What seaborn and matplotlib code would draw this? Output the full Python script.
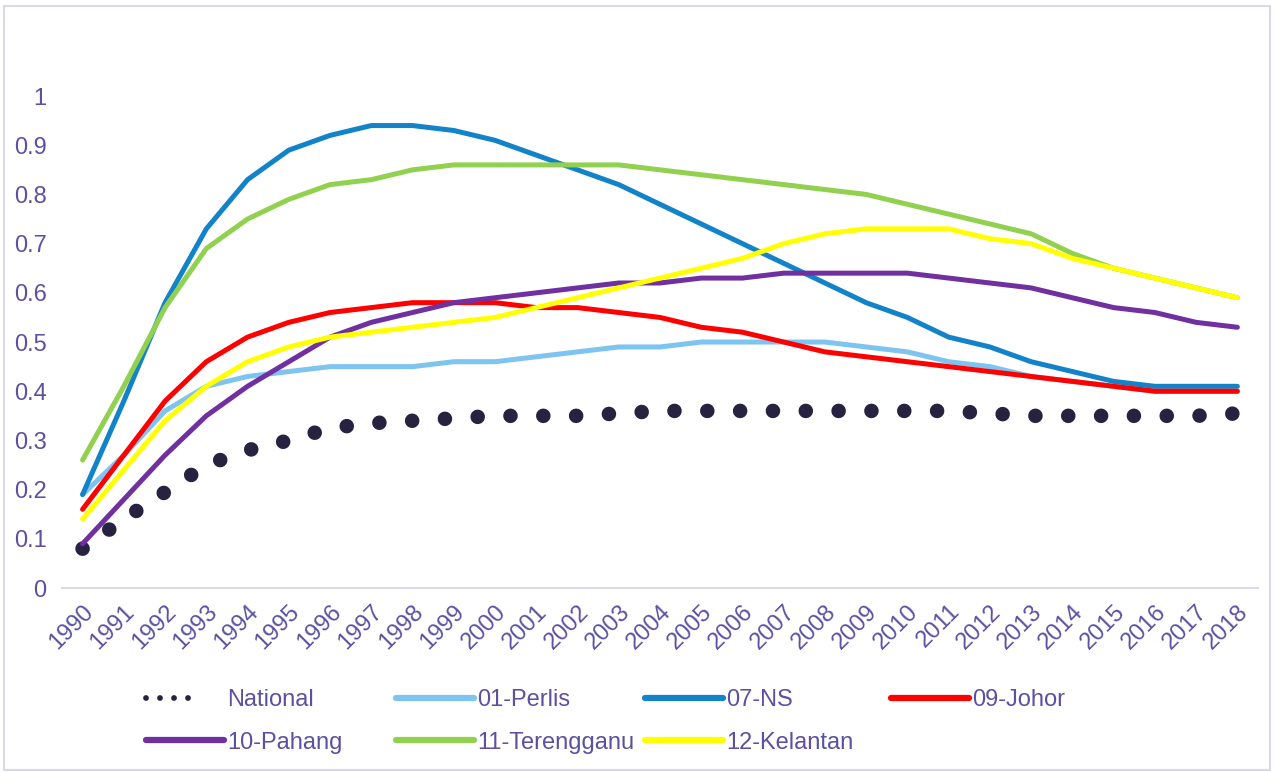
import pandas as pd
import matplotlib
matplotlib.use("Agg")
import matplotlib.pyplot as plt
import seaborn as sns
from matplotlib.patches import Rectangle
from matplotlib.lines import Line2D

# ---------------- data ----------------
years = list(range(1990, 2019))

national = [0.08, 0.14, 0.195, 0.25, 0.28, 0.30, 0.325, 0.335, 0.34, 0.345, 0.35, 0.35, 0.35, 0.355,
            0.36, 0.36, 0.36, 0.36, 0.36, 0.36, 0.36, 0.36, 0.355, 0.35, 0.35, 0.35, 0.35, 0.35, 0.355]
perlis = [0.19, 0.27, 0.36, 0.41, 0.43, 0.44, 0.45, 0.45, 0.45, 0.46, 0.46, 0.47, 0.48, 0.49,
          0.49, 0.50, 0.50, 0.50, 0.50, 0.49, 0.48, 0.46, 0.45, 0.43, 0.42, 0.41, 0.40, 0.40, 0.40]
ns = [0.19, 0.38, 0.58, 0.73, 0.83, 0.89, 0.92, 0.94, 0.94, 0.93, 0.91, 0.88, 0.85, 0.82,
      0.78, 0.74, 0.70, 0.66, 0.62, 0.58, 0.55, 0.51, 0.49, 0.46, 0.44, 0.42, 0.41, 0.41, 0.41]
johor = [0.16, 0.27, 0.38, 0.46, 0.51, 0.54, 0.56, 0.57, 0.58, 0.58, 0.58, 0.57, 0.57, 0.56,
         0.55, 0.53, 0.52, 0.50, 0.48, 0.47, 0.46, 0.45, 0.44, 0.43, 0.42, 0.41, 0.40, 0.40, 0.40]
pahang = [0.09, 0.18, 0.27, 0.35, 0.41, 0.46, 0.51, 0.54, 0.56, 0.58, 0.59, 0.60, 0.61, 0.62,
          0.62, 0.63, 0.63, 0.64, 0.64, 0.64, 0.64, 0.63, 0.62, 0.61, 0.59, 0.57, 0.56, 0.54, 0.53]
terengganu = [0.26, 0.41, 0.57, 0.69, 0.75, 0.79, 0.82, 0.83, 0.85, 0.86, 0.86, 0.86, 0.86, 0.86,
              0.85, 0.84, 0.83, 0.82, 0.81, 0.80, 0.78, 0.76, 0.74, 0.72, 0.68, 0.65, 0.63, 0.61, 0.59]
kelantan = [0.14, 0.24, 0.34, 0.41, 0.46, 0.49, 0.51, 0.52, 0.53, 0.54, 0.55, 0.57, 0.59, 0.61,
            0.63, 0.65, 0.67, 0.70, 0.72, 0.73, 0.73, 0.73, 0.71, 0.70, 0.67, 0.65, 0.63, 0.61, 0.59]

series_names = ["National", "01-Perlis", "07-NS", "09-Johor", "10-Pahang", "11-Terengganu", "12-Kelantan"]
series_values = [national, perlis, ns, johor, pahang, terengganu, kelantan]
series_colors = ["#262240", "#7DC4F0", "#1283C8", "#FF0000", "#7030A0", "#92D050", "#FFFF00"]

df = pd.DataFrame({"Year": years})
for name, vals in zip(series_names, series_values):
    df[name] = vals

# ---------------- style ----------------
sns.set_style("white")
plt.rcParams["font.family"] = ["Liberation Sans", "DejaVu Sans"]
text_color = "#5B51A0"
axis_color = "#D9D8EC"
fs = 17

fig = plt.figure(figsize=(12.8, 7.72), dpi=100)
ax = fig.add_axes([0.0484, 0.2383, 0.9344, 0.6373])

handles = []
for name, color in zip(series_names, series_colors):
    if name == "National":
        sns.lineplot(data=df, x="Year", y=name, ax=ax, color=color, lw=10.5,
                     linestyle=(0, (0.001, 2.25)), dash_capstyle="round", legend=False)
        # four small dots then a gap, like the excel legend key
        handles.append(Line2D([], [], color=color, lw=4.2,
                              linestyle=(0, (0.001, 2.4, 0.001, 2.4, 0.001, 2.4, 0.001, 12)),
                              dash_capstyle="round"))
    else:
        sns.lineplot(data=df, x="Year", y=name, ax=ax, color=color, lw=3.6,
                     solid_capstyle="round", legend=False)
        handles.append(Line2D([], [], color=color, lw=4.5, solid_capstyle="round"))

ax.set_xlim(1989.5, 2018.5)
ax.set_ylim(0, 1)
ax.set_yticks([0, 0.1, 0.2, 0.3, 0.4, 0.5, 0.6, 0.7, 0.8, 0.9, 1])
ax.set_yticklabels(["0", "0.1", "0.2", "0.3", "0.4", "0.5", "0.6", "0.7", "0.8", "0.9", "1"])
ax.set_xticks(years)
ax.set_xticklabels([str(y) for y in years], rotation=45, ha="right", rotation_mode="anchor")
ax.tick_params(axis="y", length=0, pad=11, labelsize=fs, labelcolor=text_color)
ax.tick_params(axis="x", length=0, pad=9, labelsize=fs, labelcolor=text_color)
ax.set_xlabel("")
ax.set_ylabel("")

for side in ["top", "left", "right"]:
    ax.spines[side].set_visible(False)
ax.spines["bottom"].set_color(axis_color)
ax.spines["bottom"].set_linewidth(1.5)

# legend: one small legend per column so the columns sit at equal spacing like excel
col_x = [146, 396, 645, 891]
for c, x in enumerate(col_x):
    idx = [i for i in (c, c + 4) if i < len(series_names)]
    y = 721.5 if len(idx) == 2 else 700
    leg = fig.legend([handles[i] for i in idx], [series_names[i] for i in idx],
                     loc="center left", bbox_to_anchor=(x / 1280, 1 - y / 772),
                     frameon=False, fontsize=fs, handlelength=3.3, handletextpad=0.15,
                     borderpad=0, borderaxespad=0, labelspacing=0.86)
    for t in leg.get_texts():
        t.set_color(text_color)

# chart border
fig.patches.append(Rectangle((0.003, 0.003), 0.989, 0.989, transform=fig.transFigure,
                             fill=False, edgecolor=axis_color, lw=1.5))

fig.savefig("out.png", dpi=100)
